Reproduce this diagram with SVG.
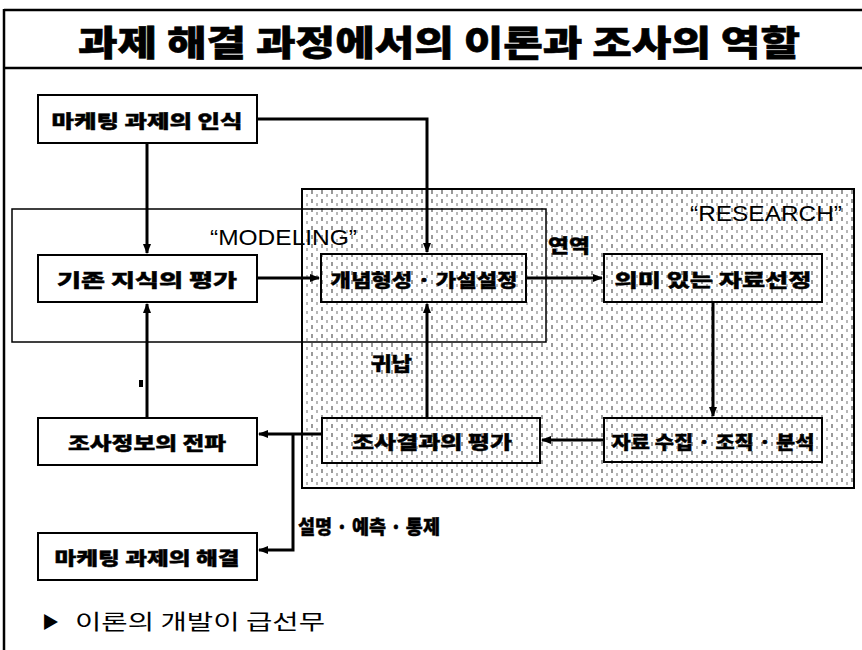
<svg xmlns="http://www.w3.org/2000/svg" width="862" height="650" viewBox="0 0 862 650">
<defs>
<style>
.frame{fill:none;stroke:#000;stroke-width:2.5}
.box{fill:#fff;stroke:#000;stroke-width:2}
.hbox{fill:none;stroke:#000;stroke-width:2}
.t{font-family:"Noto Sans CJK KR","Noto Sans",sans-serif;font-weight:900;font-size:18px;fill:#000;stroke:#000;stroke-width:0.4;text-anchor:middle;dominant-baseline:central}
.lbl{font-family:"Noto Sans CJK KR","Noto Sans",sans-serif;font-weight:900;font-size:19px;fill:#000;stroke:#000;stroke-width:0.4;dominant-baseline:central}
.en{font-family:"Liberation Sans",Arial,sans-serif;font-size:22px;fill:#000;dominant-baseline:central}
.c{fill:none;stroke:#000;stroke-width:3}
</style>
<pattern id="hatch" width="10" height="9" patternUnits="userSpaceOnUse">
<rect width="10" height="9" fill="#fff"/>
<rect x="1" y="1" width="2" height="4" fill="#9a9a9a"/>
<rect x="6" y="5" width="2" height="3" fill="#b8b8b8"/>
</pattern>
<marker id="ah" viewBox="0 0 10 10" refX="9" refY="5" markerWidth="3.5" markerHeight="3.5" orient="auto" markerUnits="strokeWidth">
<path d="M0,1 L10,5 L0,9 Z" fill="#000"/>
</marker>
</defs>
<rect width="862" height="650" fill="#fff"/>
<g id="frame">
<line x1="4" y1="10" x2="862" y2="10" class="frame"/>
<line x1="4" y1="68" x2="862" y2="68" class="frame"/>
<line x1="4" y1="9" x2="4" y2="650" class="frame"/>
<text x="439" y="40" text-anchor="middle" dominant-baseline="central" font-family="'Noto Sans CJK KR',sans-serif" font-weight="900" font-size="35" stroke="#000" stroke-width="0.6" textLength="722" lengthAdjust="spacingAndGlyphs">과제 해결 과정에서의 이론과 조사의 역할</text>
</g>
<g id="research">
<rect x="302" y="189" width="552" height="299" fill="url(#hatch)" stroke="#000" stroke-width="2"/>
<text class="en" x="690" y="213" font-size="20" textLength="152" lengthAdjust="spacingAndGlyphs">“RESEARCH”</text>
</g>
<g id="modeling">
<rect x="12" y="209" width="534" height="133" fill="none" stroke="#000" stroke-width="1.5"/>
<text class="en" x="210" y="237" textLength="147" lengthAdjust="spacingAndGlyphs">“MODELING”</text>
</g>
<g id="connectors">
<polyline class="c" points="257,119 427,119 427,252" marker-end="url(#ah)"/>
<line class="c" x1="147" y1="143" x2="147" y2="253" marker-end="url(#ah)"/>
<line class="c" x1="257" y1="278" x2="319" y2="278" marker-end="url(#ah)"/>
<line class="c" x1="526" y1="278" x2="602" y2="278" marker-end="url(#ah)"/>
<line class="c" x1="713" y1="302" x2="713" y2="416" marker-end="url(#ah)"/>
<line class="c" x1="604" y1="440" x2="542" y2="440" marker-end="url(#ah)"/>
<line class="c" x1="427" y1="418" x2="427" y2="304" marker-end="url(#ah)"/>
<line class="c" x1="322" y1="434" x2="259" y2="434" marker-end="url(#ah)"/>
<polyline class="c" points="293,434 293,550 259,550" marker-end="url(#ah)"/>
<line class="c" x1="147" y1="418" x2="147" y2="304" marker-end="url(#ah)"/>
<rect x="139" y="380" width="4" height="7" fill="#000"/>
<text class="lbl" x="548" y="244" textLength="42" lengthAdjust="spacingAndGlyphs">연역</text>
<text class="lbl" x="371" y="362" textLength="41" lengthAdjust="spacingAndGlyphs">귀납</text>
<text class="lbl" x="298" y="525" font-size="17" textLength="142" lengthAdjust="spacingAndGlyphs">설명 · 예측 · 통제</text>
</g>
<g id="n1"><rect class="box" x="38" y="95" width="219" height="48"/><text class="t" x="147" y="120" textLength="191" lengthAdjust="spacingAndGlyphs">마케팅 과제의 인식</text></g>
<g id="n2"><rect class="box" x="38" y="255" width="219" height="47"/><text class="t" x="147" y="279" textLength="180" lengthAdjust="spacingAndGlyphs">기존 지식의 평가</text></g>
<g id="n3"><rect class="hbox" x="321" y="254" width="205" height="48"/><text class="t" x="424" y="279" textLength="187" lengthAdjust="spacingAndGlyphs">개념형성 · 가설설정</text></g>
<g id="n4"><rect class="hbox" x="604" y="254" width="218" height="48"/><text class="t" x="713" y="279" textLength="197" lengthAdjust="spacingAndGlyphs">의미 있는 자료선정</text></g>
<g id="n5"><rect class="hbox" x="604" y="418" width="218" height="44"/><text class="t" x="713" y="441" textLength="203" lengthAdjust="spacingAndGlyphs">자료 수집 · 조직 · 분석</text></g>
<g id="n6"><rect class="hbox" x="322" y="418" width="218" height="45"/><text class="t" x="432" y="441" textLength="160" lengthAdjust="spacingAndGlyphs">조사결과의 평가</text></g>
<g id="n7"><rect class="box" x="38" y="418" width="219" height="47"/><text class="t" x="147" y="442" textLength="158" lengthAdjust="spacingAndGlyphs">조사정보의 전파</text></g>
<g id="n8"><rect class="box" x="38" y="533" width="219" height="47"/><text class="t" x="147" y="557" textLength="185" lengthAdjust="spacingAndGlyphs">마케팅 과제의 해결</text></g>
<g id="note">
<text x="42" y="620" dominant-baseline="central" font-family="'Noto Sans CJK KR',sans-serif" font-size="21" fill="#000"><tspan font-size="17">▶</tspan><tspan x="75" textLength="250" lengthAdjust="spacingAndGlyphs">이론의 개발이 급선무</tspan></text>
</g>
</svg>
